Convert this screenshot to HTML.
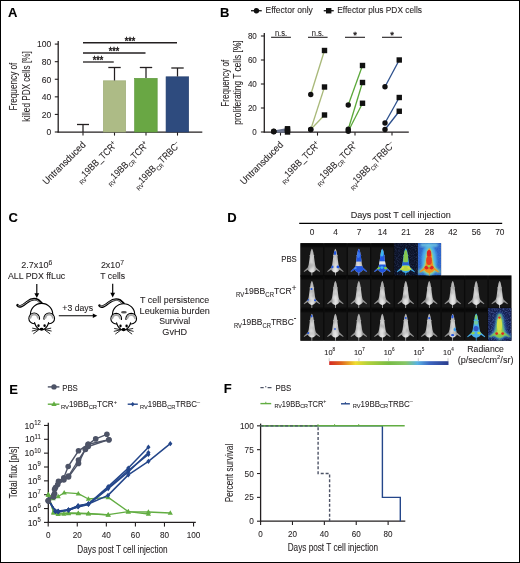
<!DOCTYPE html><html><head><meta charset="utf-8"><title>Figure</title><style>html,body{margin:0;padding:0;background:#fff;width:520px;height:563px;overflow:hidden;}svg{display:block;will-change:transform;}</style></head><body><svg width="520" height="563" viewBox="0 0 520 563" font-family='"Liberation Sans", sans-serif'><defs><path id="ms" d="M11.60,5.6 C12.14,6.2 12.77,7.6 13.04,9.5 C13.22,10.6 13.31,11.2 13.40,11.7 L14.03,12.3 L13.67,13.4 C13.94,15.5 14.30,18.0 14.66,20.5 C14.93,22.2 15.20,23.2 15.74,24.3 L19.8,28.2 L19.4,28.9 L15.83,26.6 C15.11,28.0 13.58,29.2 11.96,29.5 L11.87,32.8 L11.33,32.8 L11.24,29.5 C9.62,29.2 8.09,28.0 7.37,26.6 L3.8,28.9 L3.4,28.2 L7.46,24.3 C8.00,23.2 8.27,22.2 8.54,20.5 C8.90,18.0 9.26,15.5 9.53,13.4 L9.17,12.3 L9.80,11.7 C9.89,11.2 9.98,10.6 10.16,9.5 C10.43,7.6 11.06,6.2 11.60,5.6 Z"/><linearGradient id="topband" x1="0" x2="0" y1="0" y2="1"><stop offset="0" stop-color="#060606"/><stop offset="0.6" stop-color="#0a0a0a"/><stop offset="1" stop-color="#0a0a0a" stop-opacity="0"/></linearGradient><clipPath id="mclip"><use href="#ms"/></clipPath><linearGradient id="mg" x1="0" x2="1" y1="0" y2="0"><stop offset="0" stop-color="#8a8a8a"/><stop offset="0.27" stop-color="#9a9a9a"/><stop offset="0.38" stop-color="#d6d6d6"/><stop offset="0.5" stop-color="#e6e6e6"/><stop offset="0.62" stop-color="#d6d6d6"/><stop offset="0.73" stop-color="#9a9a9a"/><stop offset="1" stop-color="#8a8a8a"/></linearGradient><linearGradient id="mshade" x1="0" x2="0" y1="0" y2="1"><stop offset="0.1" stop-color="#000" stop-opacity="0.3"/><stop offset="0.45" stop-color="#000" stop-opacity="0.08"/><stop offset="0.7" stop-color="#000" stop-opacity="0"/></linearGradient><filter id="bl" x="-20%" y="-20%" width="140%" height="140%"><feGaussianBlur stdDeviation="0.55"/></filter><filter id="bl2" x="-30%" y="-30%" width="160%" height="160%"><feGaussianBlur stdDeviation="1.0"/></filter><filter id="noise" x="0" y="0" width="100%" height="100%"><feTurbulence type="fractalNoise" baseFrequency="0.9" numOctaves="1" seed="3"/><feColorMatrix values="0 0 0 0 0.2  0 0 0 0 0.3  0 0 0 0 0.8  0 0 0 1.1 -0.45"/></filter><linearGradient id="cbar" x1="0" x2="1" y1="0" y2="0"><stop offset="0" stop-color="#d42a24"/><stop offset="0.1" stop-color="#e0641e"/><stop offset="0.22" stop-color="#f0dc30"/><stop offset="0.32" stop-color="#b4d23a"/><stop offset="0.5" stop-color="#78bc44"/><stop offset="0.64" stop-color="#86c666"/><stop offset="0.74" stop-color="#58b2e4"/><stop offset="0.84" stop-color="#3c66c2"/><stop offset="1" stop-color="#2a3c8c"/></linearGradient><clipPath id="cc0"><rect x="0" y="0" width="23.47" height="32.30"/></clipPath><clipPath id="cc1"><rect x="0" y="0" width="23.47" height="32.70"/></clipPath><clipPath id="cc2"><rect x="0" y="0" width="23.47" height="32.70"/></clipPath><filter id="b70" x="-40%" y="-40%" width="180%" height="180%"><feGaussianBlur stdDeviation="0.7"/></filter><filter id="b100" x="-40%" y="-40%" width="180%" height="180%"><feGaussianBlur stdDeviation="1.0"/></filter><filter id="b50" x="-40%" y="-40%" width="180%" height="180%"><feGaussianBlur stdDeviation="0.5"/></filter><filter id="b120" x="-40%" y="-40%" width="180%" height="180%"><feGaussianBlur stdDeviation="1.2"/></filter><filter id="b80" x="-40%" y="-40%" width="180%" height="180%"><feGaussianBlur stdDeviation="0.8"/></filter><filter id="b60" x="-40%" y="-40%" width="180%" height="180%"><feGaussianBlur stdDeviation="0.6"/></filter><filter id="b130" x="-40%" y="-40%" width="180%" height="180%"><feGaussianBlur stdDeviation="1.3"/></filter></defs><rect width="520" height="563" fill="#fff"/><rect x="0.5" y="0.5" width="519" height="562" fill="none" stroke="#000" stroke-width="1"/>
<text x="8.1" y="16.9" font-size="13" text-anchor="start" font-weight="bold" fill="#000" stroke="#000" stroke-width="0.1">A</text>
<text x="220" y="17.0" font-size="13" text-anchor="start" font-weight="bold" fill="#000" stroke="#000" stroke-width="0.1">B</text>
<text x="8.5" y="221.9" font-size="13" text-anchor="start" font-weight="bold" fill="#000" stroke="#000" stroke-width="0.1">C</text>
<text x="227.2" y="221.6" font-size="13" text-anchor="start" font-weight="bold" fill="#000" stroke="#000" stroke-width="0.1">D</text>
<text x="9.25" y="393.75" font-size="13" text-anchor="start" font-weight="bold" fill="#000" stroke="#000" stroke-width="0.1">E</text>
<text x="223.8" y="393.4" font-size="13" text-anchor="start" font-weight="bold" fill="#000" stroke="#000" stroke-width="0.1">F</text>
<line x1="58.2" y1="41.0" x2="58.2" y2="132.6" stroke="#231f20" stroke-width="1.3" />
<line x1="54.8" y1="132.0" x2="58.2" y2="132.0" stroke="#231f20" stroke-width="1.1" />
<text x="51.3" y="135.35" font-size="9.3" text-anchor="end" font-weight="normal" fill="#231f20" stroke="#231f20" stroke-width="0.08" textLength="4.76" lengthAdjust="spacingAndGlyphs">0</text>
<line x1="54.8" y1="114.42" x2="58.2" y2="114.42" stroke="#231f20" stroke-width="1.1" />
<text x="51.3" y="117.77" font-size="9.3" text-anchor="end" font-weight="normal" fill="#231f20" stroke="#231f20" stroke-width="0.08" textLength="9.52" lengthAdjust="spacingAndGlyphs">20</text>
<line x1="54.8" y1="96.84" x2="58.2" y2="96.84" stroke="#231f20" stroke-width="1.1" />
<text x="51.3" y="100.19" font-size="9.3" text-anchor="end" font-weight="normal" fill="#231f20" stroke="#231f20" stroke-width="0.08" textLength="9.52" lengthAdjust="spacingAndGlyphs">40</text>
<line x1="54.8" y1="79.25999999999999" x2="58.2" y2="79.25999999999999" stroke="#231f20" stroke-width="1.1" />
<text x="51.3" y="82.60999999999999" font-size="9.3" text-anchor="end" font-weight="normal" fill="#231f20" stroke="#231f20" stroke-width="0.08" textLength="9.52" lengthAdjust="spacingAndGlyphs">60</text>
<line x1="54.8" y1="61.68000000000001" x2="58.2" y2="61.68000000000001" stroke="#231f20" stroke-width="1.1" />
<text x="51.3" y="65.03" font-size="9.3" text-anchor="end" font-weight="normal" fill="#231f20" stroke="#231f20" stroke-width="0.08" textLength="9.52" lengthAdjust="spacingAndGlyphs">80</text>
<line x1="54.8" y1="44.099999999999994" x2="58.2" y2="44.099999999999994" stroke="#231f20" stroke-width="1.1" />
<text x="51.3" y="47.449999999999996" font-size="9.3" text-anchor="end" font-weight="normal" fill="#231f20" stroke="#231f20" stroke-width="0.08" textLength="14.27" lengthAdjust="spacingAndGlyphs">100</text>
<line x1="57.6" y1="132.2" x2="202.3" y2="132.2" stroke="#231f20" stroke-width="1.3" />
<line x1="83" y1="132.2" x2="83" y2="135.6" stroke="#231f20" stroke-width="1.1" />
<line x1="114.5" y1="132.2" x2="114.5" y2="135.6" stroke="#231f20" stroke-width="1.1" />
<line x1="146" y1="132.2" x2="146" y2="135.6" stroke="#231f20" stroke-width="1.1" />
<line x1="177.5" y1="132.2" x2="177.5" y2="135.6" stroke="#231f20" stroke-width="1.1" />
<rect x="103.3" y="80.8" width="22.4" height="51.2" fill="#adbb86" stroke="#9aa972" stroke-width="0.6"/>
<rect x="134.55" y="78.3" width="22.65" height="53.7" fill="#69a744" stroke="#5b963a" stroke-width="0.6"/>
<rect x="166.05" y="76.8" width="22.65" height="55.2" fill="#2e4b7e" stroke="#243f6e" stroke-width="0.6"/>
<line x1="83" y1="132" x2="83" y2="124.5" stroke="#231f20" stroke-width="1.25" />
<line x1="77" y1="124.5" x2="89" y2="124.5" stroke="#231f20" stroke-width="1.3" />
<line x1="114.5" y1="80.5" x2="114.5" y2="67.5" stroke="#231f20" stroke-width="1.25" />
<line x1="108.3" y1="67.5" x2="120.7" y2="67.5" stroke="#231f20" stroke-width="1.3" />
<line x1="146" y1="78" x2="146" y2="67.5" stroke="#231f20" stroke-width="1.25" />
<line x1="139.8" y1="67.5" x2="152.2" y2="67.5" stroke="#231f20" stroke-width="1.3" />
<line x1="177.5" y1="76.5" x2="177.5" y2="68" stroke="#231f20" stroke-width="1.25" />
<line x1="171.3" y1="68" x2="183.7" y2="68" stroke="#231f20" stroke-width="1.3" />
<line x1="83" y1="42.75" x2="177" y2="42.75" stroke="#231f20" stroke-width="1.3" />
<text x="130" y="44.75" font-size="10.0" text-anchor="middle" font-weight="normal" fill="#231f20" stroke="#231f20" stroke-width="0.45" textLength="10.5" lengthAdjust="spacingAndGlyphs">***</text>
<line x1="83" y1="53" x2="145.5" y2="53" stroke="#231f20" stroke-width="1.3" />
<text x="114" y="55.0" font-size="10.0" text-anchor="middle" font-weight="normal" fill="#231f20" stroke="#231f20" stroke-width="0.45" textLength="10.5" lengthAdjust="spacingAndGlyphs">***</text>
<line x1="83" y1="62" x2="113.75" y2="62" stroke="#231f20" stroke-width="1.3" />
<text x="98" y="64.0" font-size="10.0" text-anchor="middle" font-weight="normal" fill="#231f20" stroke="#231f20" stroke-width="0.45" textLength="10.5" lengthAdjust="spacingAndGlyphs">***</text>
<text x="0" y="0" font-size="10.8" text-anchor="middle" font-weight="normal" fill="#231f20" stroke="#231f20" stroke-width="0.08" textLength="47.9" lengthAdjust="spacingAndGlyphs" transform="translate(16.8,86.6) rotate(-90)">Frequency of</text>
<text x="0" y="0" font-size="10.8" text-anchor="middle" font-weight="normal" fill="#231f20" stroke="#231f20" stroke-width="0.08" textLength="70.5" lengthAdjust="spacingAndGlyphs" transform="translate(30.1,86.45) rotate(-90)">killed PDX cells [%]</text>
<text x="0" y="0" font-size="9.7" text-anchor="end" font-weight="normal" fill="#231f20" stroke="#231f20" stroke-width="0.08" textLength="56.16" lengthAdjust="spacingAndGlyphs" transform="translate(86.2,145.5) rotate(-45)"><tspan font-size="9.7" dy="0.00">Untransduced</tspan></text>
<text x="0" y="0" font-size="9.7" text-anchor="end" font-weight="normal" fill="#231f20" stroke="#231f20" stroke-width="0.08" textLength="53.22" lengthAdjust="spacingAndGlyphs" transform="translate(117.7,145.5) rotate(-45)"><tspan font-size="6.11" dy="2.70">RV</tspan><tspan font-size="9.7" dy="-2.70">19BB_TCR</tspan><tspan font-size="6.4" dy="-3.60">+</tspan></text>
<text x="0" y="0" font-size="9.7" text-anchor="end" font-weight="normal" fill="#231f20" stroke="#231f20" stroke-width="0.08" textLength="56.21" lengthAdjust="spacingAndGlyphs" transform="translate(149.2,145.5) rotate(-45)"><tspan font-size="6.11" dy="2.70">RV</tspan><tspan font-size="9.7" dy="-2.70">19BB</tspan><tspan font-size="6.11" dy="2.70">CR</tspan><tspan font-size="9.7" dy="-2.70">TCR</tspan><tspan font-size="6.4" dy="-3.60">+</tspan></text>
<text x="0" y="0" font-size="9.7" text-anchor="end" font-weight="normal" fill="#231f20" stroke="#231f20" stroke-width="0.08" textLength="61.68" lengthAdjust="spacingAndGlyphs" transform="translate(180.7,145.5) rotate(-45)"><tspan font-size="6.11" dy="2.70">RV</tspan><tspan font-size="9.7" dy="-2.70">19BB</tspan><tspan font-size="6.11" dy="2.70">CR</tspan><tspan font-size="9.7" dy="-2.70">TRBC</tspan><tspan font-size="6.4" dy="-3.60">&#8211;</tspan></text>
<line x1="264.3" y1="33.0" x2="264.3" y2="132.6" stroke="#231f20" stroke-width="1.3" />
<line x1="260.9" y1="132.0" x2="264.3" y2="132.0" stroke="#231f20" stroke-width="1.1" />
<text x="256.8" y="135.2" font-size="8.9" text-anchor="end" font-weight="normal" fill="#231f20" stroke="#231f20" stroke-width="0.08" textLength="4.45" lengthAdjust="spacingAndGlyphs">0</text>
<line x1="260.9" y1="108.0" x2="264.3" y2="108.0" stroke="#231f20" stroke-width="1.1" />
<text x="256.8" y="111.2" font-size="8.9" text-anchor="end" font-weight="normal" fill="#231f20" stroke="#231f20" stroke-width="0.08" textLength="8.91" lengthAdjust="spacingAndGlyphs">20</text>
<line x1="260.9" y1="84.0" x2="264.3" y2="84.0" stroke="#231f20" stroke-width="1.1" />
<text x="256.8" y="87.2" font-size="8.9" text-anchor="end" font-weight="normal" fill="#231f20" stroke="#231f20" stroke-width="0.08" textLength="8.91" lengthAdjust="spacingAndGlyphs">40</text>
<line x1="260.9" y1="60.0" x2="264.3" y2="60.0" stroke="#231f20" stroke-width="1.1" />
<text x="256.8" y="63.2" font-size="8.9" text-anchor="end" font-weight="normal" fill="#231f20" stroke="#231f20" stroke-width="0.08" textLength="8.91" lengthAdjust="spacingAndGlyphs">60</text>
<line x1="260.9" y1="36.0" x2="264.3" y2="36.0" stroke="#231f20" stroke-width="1.1" />
<text x="256.8" y="39.2" font-size="8.9" text-anchor="end" font-weight="normal" fill="#231f20" stroke="#231f20" stroke-width="0.08" textLength="8.91" lengthAdjust="spacingAndGlyphs">80</text>
<line x1="263.7" y1="132.2" x2="408.8" y2="132.2" stroke="#231f20" stroke-width="1.3" />
<line x1="280.5" y1="132.2" x2="280.5" y2="135.6" stroke="#231f20" stroke-width="1.1" />
<line x1="317.5" y1="132.2" x2="317.5" y2="135.6" stroke="#231f20" stroke-width="1.1" />
<line x1="355" y1="132.2" x2="355" y2="135.6" stroke="#231f20" stroke-width="1.1" />
<line x1="392" y1="132.2" x2="392" y2="135.6" stroke="#231f20" stroke-width="1.1" />
<line x1="271.1" y1="37.3" x2="290.9" y2="37.3" stroke="#231f20" stroke-width="1.1" />
<text x="281.0" y="35.5" font-size="8.4" text-anchor="middle" font-weight="normal" fill="#231f20" stroke="#231f20" stroke-width="0.08" textLength="12.2" lengthAdjust="spacingAndGlyphs">n.s.</text>
<line x1="308" y1="37.3" x2="327.6" y2="37.3" stroke="#231f20" stroke-width="1.1" />
<text x="317.8" y="35.5" font-size="8.4" text-anchor="middle" font-weight="normal" fill="#231f20" stroke="#231f20" stroke-width="0.08" textLength="12.2" lengthAdjust="spacingAndGlyphs">n.s.</text>
<line x1="345" y1="37.3" x2="365" y2="37.3" stroke="#231f20" stroke-width="1.1" />
<text x="355.0" y="37.6" font-size="9.5" text-anchor="middle" font-weight="normal" fill="#231f20" stroke="#231f20" stroke-width="0.4">*</text>
<line x1="382" y1="37.3" x2="402" y2="37.3" stroke="#231f20" stroke-width="1.1" />
<text x="392.0" y="37.6" font-size="9.5" text-anchor="middle" font-weight="normal" fill="#231f20" stroke="#231f20" stroke-width="0.4">*</text>
<line x1="251" y1="10.75" x2="261.75" y2="10.75" stroke="#000" stroke-width="1.2" />
<circle cx="256.4" cy="10.75" r="2.7" fill="#111"/>
<text x="265.5" y="13.25" font-size="8.4" text-anchor="start" font-weight="normal" fill="#231f20" stroke="#231f20" stroke-width="0.08" textLength="47.3" lengthAdjust="spacingAndGlyphs">Effector only</text>
<line x1="323.75" y1="10.75" x2="333.75" y2="10.75" stroke="#000" stroke-width="1.2" />
<rect x="326.0" y="8.05" width="5.4" height="5.4" fill="#111"/>
<text x="337.2" y="13.25" font-size="8.4" text-anchor="start" font-weight="normal" fill="#231f20" stroke="#231f20" stroke-width="0.08" textLength="84.8" lengthAdjust="spacingAndGlyphs">Effector plus PDX cells</text>
<line x1="273.75" y1="131.25" x2="287.5" y2="128.75" stroke="#6b7590" stroke-width="1.3" />
<line x1="273.75" y1="131.8" x2="287.5" y2="132.0" stroke="#6b7590" stroke-width="1.3" />
<line x1="273.75" y1="131.5" x2="287.5" y2="130.0" stroke="#6b7590" stroke-width="1.3" />
<line x1="310.75" y1="94.5" x2="324.5" y2="50.5" stroke="#a9b97a" stroke-width="1.3" />
<line x1="310.75" y1="129.5" x2="324.5" y2="87.0" stroke="#a9b97a" stroke-width="1.3" />
<line x1="310.75" y1="129.5" x2="324.5" y2="115.0" stroke="#a9b97a" stroke-width="1.3" />
<line x1="348.25" y1="105" x2="362.5" y2="65.5" stroke="#5ba83a" stroke-width="1.3" />
<line x1="348.25" y1="129.25" x2="362.5" y2="82.5" stroke="#5ba83a" stroke-width="1.3" />
<line x1="348.25" y1="131.25" x2="362.5" y2="103.25" stroke="#5ba83a" stroke-width="1.3" />
<line x1="385.0" y1="86.75" x2="399.25" y2="60.0" stroke="#2c4f8c" stroke-width="1.3" />
<line x1="385.0" y1="123" x2="399.25" y2="97.5" stroke="#2c4f8c" stroke-width="1.3" />
<line x1="385.0" y1="129.5" x2="399.25" y2="111.25" stroke="#2c4f8c" stroke-width="1.3" />
<circle cx="273.75" cy="131.25" r="2.7" fill="#111"/>
<rect x="284.8" y="126.05" width="5.4" height="5.4" fill="#111"/>
<circle cx="273.75" cy="131.8" r="2.7" fill="#111"/>
<rect x="284.8" y="129.3" width="5.4" height="5.4" fill="#111"/>
<circle cx="273.75" cy="131.5" r="2.7" fill="#111"/>
<rect x="284.8" y="127.3" width="5.4" height="5.4" fill="#111"/>
<circle cx="310.75" cy="94.5" r="2.7" fill="#111"/>
<rect x="321.8" y="47.8" width="5.4" height="5.4" fill="#111"/>
<circle cx="310.75" cy="129.5" r="2.7" fill="#111"/>
<rect x="321.8" y="84.3" width="5.4" height="5.4" fill="#111"/>
<circle cx="310.75" cy="129.5" r="2.7" fill="#111"/>
<rect x="321.8" y="112.3" width="5.4" height="5.4" fill="#111"/>
<circle cx="348.25" cy="105" r="2.7" fill="#111"/>
<rect x="359.8" y="62.8" width="5.4" height="5.4" fill="#111"/>
<circle cx="348.25" cy="129.25" r="2.7" fill="#111"/>
<rect x="359.8" y="79.8" width="5.4" height="5.4" fill="#111"/>
<circle cx="348.25" cy="131.25" r="2.7" fill="#111"/>
<rect x="359.8" y="100.55" width="5.4" height="5.4" fill="#111"/>
<circle cx="385.0" cy="86.75" r="2.7" fill="#111"/>
<rect x="396.55" y="57.3" width="5.4" height="5.4" fill="#111"/>
<circle cx="385.0" cy="123" r="2.7" fill="#111"/>
<rect x="396.55" y="94.8" width="5.4" height="5.4" fill="#111"/>
<circle cx="385.0" cy="129.5" r="2.7" fill="#111"/>
<rect x="396.55" y="108.55" width="5.4" height="5.4" fill="#111"/>
<text x="0" y="0" font-size="10.8" text-anchor="middle" font-weight="normal" fill="#231f20" stroke="#231f20" stroke-width="0.08" textLength="46.9" lengthAdjust="spacingAndGlyphs" transform="translate(228.8,83.2) rotate(-90)">Frequency of</text>
<text x="0" y="0" font-size="10.8" text-anchor="middle" font-weight="normal" fill="#231f20" stroke="#231f20" stroke-width="0.08" textLength="84.3" lengthAdjust="spacingAndGlyphs" transform="translate(240.9,82.5) rotate(-90)">proliferating T cells [%]</text>
<text x="0" y="0" font-size="9.7" text-anchor="end" font-weight="normal" fill="#231f20" stroke="#231f20" stroke-width="0.08" textLength="56.16" lengthAdjust="spacingAndGlyphs" transform="translate(283.7,145.5) rotate(-45)"><tspan font-size="9.7" dy="0.00">Untransduced</tspan></text>
<text x="0" y="0" font-size="9.7" text-anchor="end" font-weight="normal" fill="#231f20" stroke="#231f20" stroke-width="0.08" textLength="53.22" lengthAdjust="spacingAndGlyphs" transform="translate(320.7,145.5) rotate(-45)"><tspan font-size="6.11" dy="2.70">RV</tspan><tspan font-size="9.7" dy="-2.70">19BB_TCR</tspan><tspan font-size="6.4" dy="-3.60">+</tspan></text>
<text x="0" y="0" font-size="9.7" text-anchor="end" font-weight="normal" fill="#231f20" stroke="#231f20" stroke-width="0.08" textLength="56.21" lengthAdjust="spacingAndGlyphs" transform="translate(358.2,145.5) rotate(-45)"><tspan font-size="6.11" dy="2.70">RV</tspan><tspan font-size="9.7" dy="-2.70">19BB</tspan><tspan font-size="6.11" dy="2.70">CR</tspan><tspan font-size="9.7" dy="-2.70">TCR</tspan><tspan font-size="6.4" dy="-3.60">+</tspan></text>
<text x="0" y="0" font-size="9.7" text-anchor="end" font-weight="normal" fill="#231f20" stroke="#231f20" stroke-width="0.08" textLength="61.68" lengthAdjust="spacingAndGlyphs" transform="translate(395.2,145.5) rotate(-45)"><tspan font-size="6.11" dy="2.70">RV</tspan><tspan font-size="9.7" dy="-2.70">19BB</tspan><tspan font-size="6.11" dy="2.70">CR</tspan><tspan font-size="9.7" dy="-2.70">TRBC</tspan><tspan font-size="6.4" dy="-3.60">&#8211;</tspan></text>
<text x="36.8" y="268.2" font-size="9.2" text-anchor="middle" font-weight="normal" fill="#231f20" stroke="#231f20" stroke-width="0.08" textLength="31.0" lengthAdjust="spacingAndGlyphs"><tspan font-size="9.2" dy="0.00">2.7x10</tspan><tspan font-size="7.0" dy="-3.60">6</tspan></text>
<text x="36.6" y="278.6" font-size="9.2" text-anchor="middle" font-weight="normal" fill="#231f20" stroke="#231f20" stroke-width="0.08" textLength="57.3" lengthAdjust="spacingAndGlyphs">ALL PDX ffLuc</text>
<text x="112.4" y="268.2" font-size="9.2" text-anchor="middle" font-weight="normal" fill="#231f20" stroke="#231f20" stroke-width="0.08" textLength="23.0" lengthAdjust="spacingAndGlyphs"><tspan font-size="9.2" dy="0.00">2x10</tspan><tspan font-size="7.0" dy="-3.60">7</tspan></text>
<text x="112.7" y="278.6" font-size="9.2" text-anchor="middle" font-weight="normal" fill="#231f20" stroke="#231f20" stroke-width="0.08" textLength="24.8" lengthAdjust="spacingAndGlyphs">T cells</text>
<text x="77.7" y="310.6" font-size="9.2" text-anchor="middle" font-weight="normal" fill="#231f20" stroke="#231f20" stroke-width="0.08" textLength="30.8" lengthAdjust="spacingAndGlyphs">+3 days</text>
<text x="174.7" y="302.9" font-size="9.2" text-anchor="middle" font-weight="normal" fill="#231f20" stroke="#231f20" stroke-width="0.08" textLength="69.2" lengthAdjust="spacingAndGlyphs">T cell persistence</text>
<text x="174.7" y="313.6" font-size="9.2" text-anchor="middle" font-weight="normal" fill="#231f20" stroke="#231f20" stroke-width="0.08" textLength="70.2" lengthAdjust="spacingAndGlyphs">Leukemia burden</text>
<text x="174.7" y="324.4" font-size="9.2" text-anchor="middle" font-weight="normal" fill="#231f20" stroke="#231f20" stroke-width="0.08" textLength="31.0" lengthAdjust="spacingAndGlyphs">Survival</text>
<text x="174.7" y="335.1" font-size="9.2" text-anchor="middle" font-weight="normal" fill="#231f20" stroke="#231f20" stroke-width="0.08" textLength="24.8" lengthAdjust="spacingAndGlyphs">GvHD</text>
<line x1="36.8" y1="284.0" x2="36.8" y2="294.8" stroke="#000" stroke-width="1.15" />
<path d="M34.4,293.2 L39.199999999999996,293.2 L36.8,298.0 Z" fill="#000"/>
<line x1="112.7" y1="283.8" x2="112.7" y2="294.3" stroke="#000" stroke-width="1.15" />
<path d="M110.3,292.7 L115.10000000000001,292.7 L112.7,297.5 Z" fill="#000"/>
<line x1="58.8" y1="315.8" x2="94.0" y2="315.8" stroke="#000" stroke-width="1.1" />
<path d="M92.8,313.5 L92.8,318.1 L97.3,315.8 Z" fill="#000"/>
<g transform="translate(0,0)" stroke-linecap="round"><path d="M17.5,305.2 C19.5,308 23,305.5 27,302.2 C30.5,299.3 34.5,298.3 38.2,300.2 L41.5,303.2" fill="none" stroke="#000" stroke-width="2.6"/><path d="M18.2,305.6 C20.2,307.2 23.2,305 27.2,302.0 C30.6,299.6 34.4,298.9 37.9,300.8 L40.6,303.2" fill="none" stroke="#aaa" stroke-width="1.0"/><circle cx="41.6" cy="314.6" r="11.2" fill="#fff" stroke="#000" stroke-width="1.1"/><circle cx="34.2" cy="318.4" r="5.35" fill="#fff" stroke="#000" stroke-width="1.1"/><circle cx="49.2" cy="318.4" r="5.35" fill="#fff" stroke="#000" stroke-width="1.1"/><path d="M30.4,318.0 Q31.0,314.6 34.2,314.5 Q37.4,314.6 38.0,318.0" fill="none" stroke="#a8a8a8" stroke-width="1.7"/><path d="M45.4,318.0 Q46.0,314.6 49.2,314.5 Q52.4,314.6 53.0,318.0" fill="none" stroke="#a8a8a8" stroke-width="1.7"/><path d="M36.0,319.8 L47.4,319.8 L48.7,322.6 Q47.2,328.6 41.6,330.3 Q36.0,328.6 34.5,322.6 Z" fill="#fff"/><path d="M34.6,322.6 Q36.0,328.6 41.6,330.3 Q47.2,328.6 48.6,322.6" fill="none" stroke="#000" stroke-width="1.1"/><ellipse cx="38.5" cy="325.7" rx="1.2" ry="1.4" fill="#000"/><ellipse cx="44.6" cy="325.7" rx="1.2" ry="1.4" fill="#000"/><ellipse cx="41.6" cy="328.9" rx="1.9" ry="1.2" fill="#000"/><path d="M38.2,329.3 L32.6,328.2 M38.2,329.6 L32.2,331.0 M38.5,330 L33.6,333.6 M45.2,329.3 L50.8,328.2 M45.2,329.6 L51.2,331.0 M44.9,330 L49.8,333.6" stroke="#000" stroke-width="0.85" fill="none"/></g>
<g transform="translate(82.0,0.3)" stroke-linecap="round"><path d="M17.5,305.2 C19.5,308 23,305.5 27,302.2 C30.5,299.3 34.5,298.3 38.2,300.2 L41.5,303.2" fill="none" stroke="#000" stroke-width="2.6"/><path d="M18.2,305.6 C20.2,307.2 23.2,305 27.2,302.0 C30.6,299.6 34.4,298.9 37.9,300.8 L40.6,303.2" fill="none" stroke="#aaa" stroke-width="1.0"/><circle cx="41.6" cy="314.6" r="11.2" fill="#fff" stroke="#000" stroke-width="1.1"/><ellipse cx="41.9" cy="312.0" rx="2.9" ry="1.3" fill="#555"/><circle cx="34.2" cy="318.4" r="5.35" fill="#fff" stroke="#000" stroke-width="1.1"/><circle cx="49.2" cy="318.4" r="5.35" fill="#fff" stroke="#000" stroke-width="1.1"/><path d="M30.4,318.0 Q31.0,314.6 34.2,314.5 Q37.4,314.6 38.0,318.0" fill="none" stroke="#a8a8a8" stroke-width="1.7"/><path d="M45.4,318.0 Q46.0,314.6 49.2,314.5 Q52.4,314.6 53.0,318.0" fill="none" stroke="#a8a8a8" stroke-width="1.7"/><path d="M36.0,319.8 L47.4,319.8 L48.7,322.6 Q47.2,328.6 41.6,330.3 Q36.0,328.6 34.5,322.6 Z" fill="#fff"/><path d="M34.6,322.6 Q36.0,328.6 41.6,330.3 Q47.2,328.6 48.6,322.6" fill="none" stroke="#000" stroke-width="1.1"/><ellipse cx="38.5" cy="325.7" rx="1.2" ry="1.4" fill="#000"/><ellipse cx="44.6" cy="325.7" rx="1.2" ry="1.4" fill="#000"/><ellipse cx="41.6" cy="328.9" rx="1.9" ry="1.2" fill="#000"/><path d="M38.2,329.3 L32.6,328.2 M38.2,329.6 L32.2,331.0 M38.5,330 L33.6,333.6 M45.2,329.3 L50.8,328.2 M45.2,329.6 L51.2,331.0 M44.9,330 L49.8,333.6" stroke="#000" stroke-width="0.85" fill="none"/></g>
<text x="400.7" y="217.9" font-size="8.9" text-anchor="middle" font-weight="normal" fill="#231f20" stroke="#231f20" stroke-width="0.08" textLength="100.1" lengthAdjust="spacingAndGlyphs">Days post T cell injection</text>
<line x1="299.2" y1="223.4" x2="502.2" y2="223.4" stroke="#000" stroke-width="1.2" />
<text x="312.035" y="234.7" font-size="8.8" text-anchor="middle" font-weight="normal" fill="#231f20" stroke="#231f20" stroke-width="0.08" textLength="4.65" lengthAdjust="spacingAndGlyphs">0</text>
<text x="335.505" y="234.7" font-size="8.8" text-anchor="middle" font-weight="normal" fill="#231f20" stroke="#231f20" stroke-width="0.08" textLength="4.65" lengthAdjust="spacingAndGlyphs">4</text>
<text x="358.975" y="234.7" font-size="8.8" text-anchor="middle" font-weight="normal" fill="#231f20" stroke="#231f20" stroke-width="0.08" textLength="4.65" lengthAdjust="spacingAndGlyphs">7</text>
<text x="382.445" y="234.7" font-size="8.8" text-anchor="middle" font-weight="normal" fill="#231f20" stroke="#231f20" stroke-width="0.08" textLength="9.3" lengthAdjust="spacingAndGlyphs">14</text>
<text x="405.915" y="234.7" font-size="8.8" text-anchor="middle" font-weight="normal" fill="#231f20" stroke="#231f20" stroke-width="0.08" textLength="9.3" lengthAdjust="spacingAndGlyphs">21</text>
<text x="429.385" y="234.7" font-size="8.8" text-anchor="middle" font-weight="normal" fill="#231f20" stroke="#231f20" stroke-width="0.08" textLength="9.3" lengthAdjust="spacingAndGlyphs">28</text>
<text x="452.855" y="234.7" font-size="8.8" text-anchor="middle" font-weight="normal" fill="#231f20" stroke="#231f20" stroke-width="0.08" textLength="9.3" lengthAdjust="spacingAndGlyphs">42</text>
<text x="476.325" y="234.7" font-size="8.8" text-anchor="middle" font-weight="normal" fill="#231f20" stroke="#231f20" stroke-width="0.08" textLength="9.3" lengthAdjust="spacingAndGlyphs">56</text>
<text x="499.795" y="234.7" font-size="8.8" text-anchor="middle" font-weight="normal" fill="#231f20" stroke="#231f20" stroke-width="0.08" textLength="9.3" lengthAdjust="spacingAndGlyphs">70</text>
<text x="296.8" y="261.7" font-size="9.2" text-anchor="end" font-weight="normal" fill="#231f20" stroke="#231f20" stroke-width="0.08" textLength="15.6" lengthAdjust="spacingAndGlyphs">PBS</text>
<text x="296.4" y="294.1" font-size="9.2" text-anchor="end" font-weight="normal" fill="#231f20" stroke="#231f20" stroke-width="0.08" textLength="60.3" lengthAdjust="spacingAndGlyphs"><tspan font-size="6.4" dy="3">RV</tspan><tspan dy="-3">19BB</tspan><tspan font-size="6.4" dy="3">CR</tspan><tspan dy="-3">TCR</tspan><tspan font-size="8.6" dy="-3.3">+</tspan></text>
<text x="296.4" y="324.6" font-size="9.2" text-anchor="end" font-weight="normal" fill="#231f20" stroke="#231f20" stroke-width="0.08" textLength="62.5" lengthAdjust="spacingAndGlyphs"><tspan font-size="6.4" dy="3">RV</tspan><tspan dy="-3">19BB</tspan><tspan font-size="6.4" dy="3">CR</tspan><tspan dy="-3">TRBC</tspan><tspan font-size="8.6" dy="-3.3">-</tspan></text>
<rect x="300.3" y="243.1" width="140.82" height="33.3" fill="#0a0a0a"/>
<rect x="300.3" y="275.4" width="211.23" height="65.4" fill="#0a0a0a"/>
<g transform="translate(300.30,243.1)" clip-path="url(#cc0)"><rect x="0.6" y="0.5" width="22.27" height="31.30" fill="#161616"/><rect x="0.6" y="0.5" width="22.27" height="4.5" fill="url(#topband)"/><use href="#ms" fill="url(#mg)" filter="url(#bl)"/><g clip-path="url(#mclip)"><rect x="0" y="0" width="24" height="33" fill="url(#mshade)"/><g filter="url(#b100)"><ellipse cx="13.3" cy="21.9" rx="1.5" ry="1.5" fill="#000" opacity="0.12"/><ellipse cx="11.1" cy="22.3" rx="1.4" ry="1.7" fill="#000" opacity="0.13"/><ellipse cx="13.6" cy="17.6" rx="1.4" ry="2.0" fill="#000" opacity="0.13"/><ellipse cx="10.4" cy="24.5" rx="2.0" ry="2.0" fill="#000" opacity="0.15"/><ellipse cx="10.7" cy="21.4" rx="1.9" ry="1.9" fill="#000" opacity="0.12"/></g></g></g>
<g transform="translate(323.77,243.1)" clip-path="url(#cc0)"><rect x="0.6" y="0.5" width="22.27" height="31.30" fill="#161616"/><rect x="0.6" y="0.5" width="22.27" height="4.5" fill="url(#topband)"/><use href="#ms" fill="url(#mg)" filter="url(#bl)"/><g clip-path="url(#mclip)"><rect x="0" y="0" width="24" height="33" fill="url(#mshade)"/><g filter="url(#b100)"><ellipse cx="9.8" cy="23.4" rx="1.8" ry="1.5" fill="#000" opacity="0.12"/><ellipse cx="11.3" cy="20.1" rx="1.8" ry="1.3" fill="#000" opacity="0.08"/><ellipse cx="13.3" cy="16.4" rx="1.8" ry="1.2" fill="#000" opacity="0.12"/><ellipse cx="12.7" cy="12.9" rx="2.0" ry="2.1" fill="#000" opacity="0.08"/><ellipse cx="9.2" cy="18.2" rx="2.0" ry="1.6" fill="#000" opacity="0.10"/></g></g><g clip-path="url(#mclip)"><g filter="url(#bl)"><ellipse cx="11.2" cy="10" rx="1.4" ry="2.0" fill="#2456e0"/><ellipse cx="8.2" cy="23.8" rx="1.6" ry="1.3" fill="#2456e0"/><ellipse cx="14.3" cy="23.8" rx="1.6" ry="1.3" fill="#2456e0"/></g></g></g>
<g transform="translate(347.24,243.1)" clip-path="url(#cc0)"><rect x="0.6" y="0.5" width="22.27" height="31.30" fill="#202020"/><rect x="0.6" y="0.5" width="22.27" height="4.5" fill="url(#topband)"/><use href="#ms" fill="url(#mg)" filter="url(#bl)"/><g clip-path="url(#mclip)"><rect x="0" y="0" width="24" height="33" fill="url(#mshade)"/><g filter="url(#b100)"><ellipse cx="13.9" cy="25.1" rx="1.2" ry="1.3" fill="#000" opacity="0.15"/><ellipse cx="12.8" cy="20.4" rx="1.4" ry="1.8" fill="#000" opacity="0.13"/><ellipse cx="12.0" cy="11.7" rx="1.5" ry="1.6" fill="#000" opacity="0.14"/><ellipse cx="14.1" cy="25.1" rx="1.6" ry="1.6" fill="#000" opacity="0.10"/><ellipse cx="9.3" cy="9.5" rx="1.6" ry="1.5" fill="#000" opacity="0.11"/></g></g><g clip-path="url(#mclip)"><g filter="url(#bl)"><rect x="0" y="0" width="24" height="18.5" fill="#2456e0"/><ellipse cx="11.2" cy="12" rx="1.6" ry="3.0" fill="#3a78f0"/><rect x="0" y="23" width="24" height="12" fill="#2456e0"/><ellipse cx="8" cy="25" rx="1.5" ry="1" fill="#5090f0"/></g></g></g>
<g transform="translate(370.71,243.1)" clip-path="url(#cc0)"><rect x="0.6" y="0.5" width="22.27" height="31.30" fill="#161616"/><rect x="0.6" y="0.5" width="22.27" height="4.5" fill="url(#topband)"/><use href="#ms" fill="url(#mg)" filter="url(#bl)"/><g clip-path="url(#mclip)"><rect x="0" y="0" width="24" height="33" fill="url(#mshade)"/><g filter="url(#b100)"><ellipse cx="10.3" cy="18.3" rx="1.5" ry="1.8" fill="#000" opacity="0.13"/><ellipse cx="9.4" cy="9.2" rx="1.9" ry="1.5" fill="#000" opacity="0.10"/><ellipse cx="14.1" cy="17.0" rx="1.9" ry="1.7" fill="#000" opacity="0.13"/><ellipse cx="9.9" cy="19.8" rx="1.9" ry="1.7" fill="#000" opacity="0.14"/><ellipse cx="12.5" cy="10.1" rx="1.8" ry="1.8" fill="#000" opacity="0.10"/></g></g><g clip-path="url(#mclip)"><g filter="url(#bl)"><rect x="0" y="0" width="24" height="33" fill="#2456e0"/><ellipse cx="11.2" cy="10" rx="1.8" ry="3.5" fill="#3cb4f0"/><rect x="0" y="18.2" width="24" height="3.2" fill="#dfe6ee"/><ellipse cx="7.5" cy="25" rx="1.8" ry="1.3" fill="#7cc84a"/><ellipse cx="15" cy="25" rx="1.8" ry="1.3" fill="#7cc84a"/><ellipse cx="11.2" cy="24.5" rx="1.6" ry="1.3" fill="#3cb4f0"/></g></g></g>
<g transform="translate(394.18,243.1)" clip-path="url(#cc0)"><rect x="0.6" y="0.5" width="22.27" height="31.30" fill="#161616"/><rect x="0.6" y="0.5" width="22.27" height="4.5" fill="url(#topband)"/><rect x="0" y="0" width="23.47" height="32.30" fill="#0c1226"/><rect x="0" y="0" width="23.47" height="32.30" filter="url(#noise)" opacity="0.5"/><use href="#ms" transform="translate(11.4,19) scale(1.1,1.03) translate(-11.4,-19)" fill="#3aa8e8" opacity="1" filter="url(#b50)"/><g clip-path="url(#mclip)"><g filter="url(#bl)"><ellipse cx="11.4" cy="13.5" rx="3.2" ry="6.5" fill="#86c850"/><rect x="0" y="19.2" width="24" height="2.8" fill="#2a60d0"/><ellipse cx="11.4" cy="25.2" rx="6.5" ry="2.8" fill="#b8d840"/><ellipse cx="8" cy="24.5" rx="1.8" ry="1.3" fill="#d8dc40"/><ellipse cx="15" cy="24.5" rx="1.8" ry="1.3" fill="#d8dc40"/></g></g></g>
<g transform="translate(417.65,243.1)" clip-path="url(#cc0)"><rect x="0.6" y="0.5" width="22.27" height="31.30" fill="#161616"/><rect x="0.6" y="0.5" width="22.27" height="4.5" fill="url(#topband)"/><rect x="0" y="0" width="23.47" height="32.30" fill="#2c64c8"/><rect x="0" y="0" width="23.47" height="32.30" filter="url(#noise)" opacity="0.6"/><ellipse cx="11.5" cy="17" rx="7.5" ry="16" fill="#48a8ec" filter="url(#bl2)"/><rect x="3" y="0.5" width="17" height="3" fill="#70c8e0" filter="url(#bl2)"/><use href="#ms" transform="translate(11.4,19) scale(1.6,1.15) translate(-11.4,-19)" fill="#60c8e0" opacity="1" filter="url(#b120)"/><use href="#ms" transform="translate(11.4,19) scale(1.35,1.08) translate(-11.4,-19)" fill="#c8e040" opacity="1" filter="url(#b80)"/><use href="#ms" transform="translate(11.4,19) scale(1.15,1.03) translate(-11.4,-19)" fill="#f09020" opacity="1" filter="url(#b60)"/><g><g filter="url(#b70)"><ellipse cx="11.4" cy="10.5" rx="2.2" ry="3.5" fill="#e02820"/><ellipse cx="11.4" cy="17.5" rx="2.8" ry="4.5" fill="#e84020"/><ellipse cx="9" cy="24.5" rx="2.2" ry="1.8" fill="#e02820"/><ellipse cx="13.8" cy="24.5" rx="2.2" ry="1.8" fill="#e02820"/><ellipse cx="11.4" cy="23.2" rx="1.4" ry="1.2" fill="#a0d040"/></g></g></g>
<g transform="translate(300.30,275.4)" clip-path="url(#cc1)"><rect x="0.6" y="0.5" width="22.27" height="31.70" fill="#161616"/><rect x="0.6" y="0.5" width="22.27" height="4.5" fill="url(#topband)"/><use href="#ms" fill="url(#mg)" filter="url(#bl)"/><g clip-path="url(#mclip)"><rect x="0" y="0" width="24" height="33" fill="url(#mshade)"/><g filter="url(#b100)"><ellipse cx="12.0" cy="16.3" rx="1.7" ry="1.4" fill="#000" opacity="0.15"/><ellipse cx="13.2" cy="20.1" rx="1.3" ry="1.7" fill="#000" opacity="0.11"/><ellipse cx="10.3" cy="25.2" rx="2.0" ry="1.2" fill="#000" opacity="0.15"/><ellipse cx="12.1" cy="15.5" rx="1.4" ry="1.9" fill="#000" opacity="0.12"/><ellipse cx="12.5" cy="20.3" rx="1.3" ry="2.0" fill="#000" opacity="0.16"/></g></g><g clip-path="url(#mclip)"><g filter="url(#bl)"><ellipse cx="11.2" cy="13.5" rx="1.1" ry="1.0" fill="#2456e0"/><ellipse cx="7.5" cy="24.3" rx="1.1" ry="1.0" fill="#2456e0"/><ellipse cx="14.8" cy="24.8" rx="1.1" ry="1.0" fill="#2456e0"/></g></g></g>
<g transform="translate(323.77,275.4)" clip-path="url(#cc1)"><rect x="0.6" y="0.5" width="22.27" height="31.70" fill="#161616"/><rect x="0.6" y="0.5" width="22.27" height="4.5" fill="url(#topband)"/><use href="#ms" fill="url(#mg)" filter="url(#bl)"/><g clip-path="url(#mclip)"><rect x="0" y="0" width="24" height="33" fill="url(#mshade)"/><g filter="url(#b100)"><ellipse cx="11.4" cy="18.5" rx="1.9" ry="1.7" fill="#000" opacity="0.12"/><ellipse cx="12.0" cy="12.1" rx="1.6" ry="1.8" fill="#000" opacity="0.14"/><ellipse cx="9.6" cy="14.2" rx="1.3" ry="2.0" fill="#000" opacity="0.14"/><ellipse cx="9.3" cy="25.7" rx="2.0" ry="1.9" fill="#000" opacity="0.13"/><ellipse cx="9.9" cy="9.3" rx="1.6" ry="1.3" fill="#000" opacity="0.10"/></g></g></g>
<g transform="translate(347.24,275.4)" clip-path="url(#cc1)"><rect x="0.6" y="0.5" width="22.27" height="31.70" fill="#1e1e1e"/><rect x="0.6" y="0.5" width="22.27" height="4.5" fill="url(#topband)"/><use href="#ms" fill="url(#mg)" filter="url(#bl)"/><g clip-path="url(#mclip)"><rect x="0" y="0" width="24" height="33" fill="url(#mshade)"/><g filter="url(#b100)"><ellipse cx="11.5" cy="20.2" rx="1.7" ry="1.3" fill="#000" opacity="0.08"/><ellipse cx="11.0" cy="13.7" rx="1.8" ry="1.9" fill="#000" opacity="0.13"/><ellipse cx="11.9" cy="20.2" rx="1.3" ry="1.6" fill="#000" opacity="0.09"/><ellipse cx="13.6" cy="10.0" rx="1.9" ry="1.3" fill="#000" opacity="0.13"/><ellipse cx="10.8" cy="15.9" rx="1.9" ry="1.2" fill="#000" opacity="0.08"/></g></g></g>
<g transform="translate(370.71,275.4)" clip-path="url(#cc1)"><rect x="0.6" y="0.5" width="22.27" height="31.70" fill="#161616"/><rect x="0.6" y="0.5" width="22.27" height="4.5" fill="url(#topband)"/><use href="#ms" fill="url(#mg)" filter="url(#bl)"/><g clip-path="url(#mclip)"><rect x="0" y="0" width="24" height="33" fill="url(#mshade)"/><g filter="url(#b100)"><ellipse cx="10.4" cy="20.6" rx="1.7" ry="2.0" fill="#000" opacity="0.09"/><ellipse cx="10.3" cy="11.5" rx="1.4" ry="1.9" fill="#000" opacity="0.09"/><ellipse cx="11.8" cy="12.6" rx="1.4" ry="1.6" fill="#000" opacity="0.15"/><ellipse cx="12.1" cy="9.2" rx="1.4" ry="1.3" fill="#000" opacity="0.15"/><ellipse cx="13.1" cy="22.7" rx="1.9" ry="1.9" fill="#000" opacity="0.16"/></g></g></g>
<g transform="translate(394.18,275.4)" clip-path="url(#cc1)"><rect x="0.6" y="0.5" width="22.27" height="31.70" fill="#141414"/><rect x="0.6" y="0.5" width="22.27" height="4.5" fill="url(#topband)"/><use href="#ms" fill="url(#mg)" filter="url(#bl)"/><g clip-path="url(#mclip)"><rect x="0" y="0" width="24" height="33" fill="url(#mshade)"/><g filter="url(#b100)"><ellipse cx="9.6" cy="20.9" rx="1.7" ry="2.1" fill="#000" opacity="0.10"/><ellipse cx="10.4" cy="21.5" rx="1.7" ry="1.5" fill="#000" opacity="0.13"/><ellipse cx="11.1" cy="22.2" rx="1.3" ry="1.4" fill="#000" opacity="0.15"/><ellipse cx="10.9" cy="13.4" rx="1.8" ry="1.8" fill="#000" opacity="0.09"/><ellipse cx="11.9" cy="20.3" rx="1.3" ry="1.9" fill="#000" opacity="0.09"/></g></g></g>
<g transform="translate(417.65,275.4)" clip-path="url(#cc1)"><rect x="0.6" y="0.5" width="22.27" height="31.70" fill="#161616"/><rect x="0.6" y="0.5" width="22.27" height="4.5" fill="url(#topband)"/><use href="#ms" fill="url(#mg)" filter="url(#bl)"/><g clip-path="url(#mclip)"><rect x="0" y="0" width="24" height="33" fill="url(#mshade)"/><g filter="url(#b100)"><ellipse cx="13.9" cy="9.2" rx="1.8" ry="1.4" fill="#000" opacity="0.16"/><ellipse cx="9.2" cy="24.0" rx="1.7" ry="2.1" fill="#000" opacity="0.16"/><ellipse cx="10.3" cy="14.7" rx="1.8" ry="1.5" fill="#000" opacity="0.10"/><ellipse cx="10.2" cy="23.6" rx="1.9" ry="2.0" fill="#000" opacity="0.10"/><ellipse cx="13.7" cy="17.7" rx="1.4" ry="1.7" fill="#000" opacity="0.11"/></g></g></g>
<g transform="translate(441.12,275.4)" clip-path="url(#cc1)"><rect x="0.6" y="0.5" width="22.27" height="31.70" fill="#161616"/><rect x="0.6" y="0.5" width="22.27" height="4.5" fill="url(#topband)"/><use href="#ms" fill="url(#mg)" filter="url(#bl)"/><g clip-path="url(#mclip)"><rect x="0" y="0" width="24" height="33" fill="url(#mshade)"/><g filter="url(#b100)"><ellipse cx="10.9" cy="17.2" rx="1.5" ry="1.6" fill="#000" opacity="0.11"/><ellipse cx="12.4" cy="13.4" rx="1.7" ry="1.2" fill="#000" opacity="0.10"/><ellipse cx="10.8" cy="11.4" rx="1.8" ry="1.5" fill="#000" opacity="0.14"/><ellipse cx="13.9" cy="13.3" rx="1.9" ry="2.0" fill="#000" opacity="0.13"/><ellipse cx="9.2" cy="16.8" rx="1.7" ry="1.5" fill="#000" opacity="0.10"/></g></g></g>
<g transform="translate(464.59,275.4)" clip-path="url(#cc1)"><rect x="0.6" y="0.5" width="22.27" height="31.70" fill="#161616"/><rect x="0.6" y="0.5" width="22.27" height="4.5" fill="url(#topband)"/><use href="#ms" fill="url(#mg)" filter="url(#bl)"/><g clip-path="url(#mclip)"><rect x="0" y="0" width="24" height="33" fill="url(#mshade)"/><g filter="url(#b100)"><ellipse cx="11.7" cy="22.7" rx="2.0" ry="1.5" fill="#000" opacity="0.14"/><ellipse cx="12.6" cy="20.2" rx="1.3" ry="1.2" fill="#000" opacity="0.11"/><ellipse cx="12.8" cy="13.3" rx="1.6" ry="1.5" fill="#000" opacity="0.15"/><ellipse cx="13.8" cy="15.8" rx="2.0" ry="1.3" fill="#000" opacity="0.15"/><ellipse cx="13.5" cy="11.6" rx="1.8" ry="1.8" fill="#000" opacity="0.16"/></g></g></g>
<g transform="translate(488.06,275.4)" clip-path="url(#cc1)"><rect x="0.6" y="0.5" width="22.27" height="31.70" fill="#161616"/><rect x="0.6" y="0.5" width="22.27" height="4.5" fill="url(#topband)"/><use href="#ms" fill="url(#mg)" filter="url(#bl)"/><g clip-path="url(#mclip)"><rect x="0" y="0" width="24" height="33" fill="url(#mshade)"/><g filter="url(#b100)"><ellipse cx="10.0" cy="20.2" rx="1.5" ry="1.4" fill="#000" opacity="0.12"/><ellipse cx="11.6" cy="17.2" rx="1.6" ry="1.5" fill="#000" opacity="0.10"/><ellipse cx="12.6" cy="14.5" rx="1.7" ry="2.0" fill="#000" opacity="0.15"/><ellipse cx="13.8" cy="13.0" rx="1.4" ry="1.9" fill="#000" opacity="0.13"/><ellipse cx="10.1" cy="20.5" rx="1.9" ry="2.0" fill="#000" opacity="0.10"/></g></g></g>
<g transform="translate(300.30,308.1)" clip-path="url(#cc2)"><rect x="0.6" y="0.5" width="22.27" height="31.70" fill="#161616"/><rect x="0.6" y="0.5" width="22.27" height="4.5" fill="url(#topband)"/><use href="#ms" fill="url(#mg)" filter="url(#bl)"/><g clip-path="url(#mclip)"><rect x="0" y="0" width="24" height="33" fill="url(#mshade)"/><g filter="url(#b100)"><ellipse cx="13.6" cy="20.7" rx="1.8" ry="2.1" fill="#000" opacity="0.10"/><ellipse cx="12.3" cy="24.4" rx="1.9" ry="1.8" fill="#000" opacity="0.09"/><ellipse cx="11.2" cy="25.9" rx="1.3" ry="1.5" fill="#000" opacity="0.16"/><ellipse cx="11.3" cy="12.5" rx="1.5" ry="2.1" fill="#000" opacity="0.11"/><ellipse cx="11.2" cy="19.7" rx="1.8" ry="1.7" fill="#000" opacity="0.09"/></g></g><g clip-path="url(#mclip)"><g filter="url(#bl)"><ellipse cx="11.2" cy="8" rx="1.1" ry="1.4" fill="#2456e0"/><ellipse cx="7.8" cy="24.8" rx="1.2" ry="1.0" fill="#2456e0"/></g></g></g>
<g transform="translate(323.77,308.1)" clip-path="url(#cc2)"><rect x="0.6" y="0.5" width="22.27" height="31.70" fill="#161616"/><rect x="0.6" y="0.5" width="22.27" height="4.5" fill="url(#topband)"/><use href="#ms" fill="url(#mg)" filter="url(#bl)"/><g clip-path="url(#mclip)"><rect x="0" y="0" width="24" height="33" fill="url(#mshade)"/><g filter="url(#b100)"><ellipse cx="9.9" cy="20.7" rx="1.7" ry="1.7" fill="#000" opacity="0.10"/><ellipse cx="13.1" cy="22.7" rx="1.6" ry="1.7" fill="#000" opacity="0.10"/><ellipse cx="9.1" cy="15.3" rx="1.7" ry="1.3" fill="#000" opacity="0.14"/><ellipse cx="10.3" cy="13.0" rx="1.2" ry="2.2" fill="#000" opacity="0.14"/><ellipse cx="13.5" cy="19.5" rx="1.2" ry="1.5" fill="#000" opacity="0.12"/></g></g><g clip-path="url(#mclip)"><g filter="url(#bl)"><ellipse cx="11.2" cy="21" rx="1.0" ry="1.0" fill="#4a70e0"/></g></g></g>
<g transform="translate(347.24,308.1)" clip-path="url(#cc2)"><rect x="0.6" y="0.5" width="22.27" height="31.70" fill="#1e1e1e"/><rect x="0.6" y="0.5" width="22.27" height="4.5" fill="url(#topband)"/><use href="#ms" fill="url(#mg)" filter="url(#bl)"/><g clip-path="url(#mclip)"><rect x="0" y="0" width="24" height="33" fill="url(#mshade)"/><g filter="url(#b100)"><ellipse cx="13.9" cy="11.4" rx="1.2" ry="2.2" fill="#000" opacity="0.09"/><ellipse cx="9.7" cy="20.1" rx="1.5" ry="2.1" fill="#000" opacity="0.10"/><ellipse cx="13.9" cy="14.4" rx="1.7" ry="2.1" fill="#000" opacity="0.13"/><ellipse cx="13.7" cy="21.0" rx="1.2" ry="2.1" fill="#000" opacity="0.13"/><ellipse cx="10.7" cy="12.2" rx="1.9" ry="1.8" fill="#000" opacity="0.16"/></g></g></g>
<g transform="translate(370.71,308.1)" clip-path="url(#cc2)"><rect x="0.6" y="0.5" width="22.27" height="31.70" fill="#161616"/><rect x="0.6" y="0.5" width="22.27" height="4.5" fill="url(#topband)"/><use href="#ms" fill="url(#mg)" filter="url(#bl)"/><g clip-path="url(#mclip)"><rect x="0" y="0" width="24" height="33" fill="url(#mshade)"/><g filter="url(#b100)"><ellipse cx="13.7" cy="25.1" rx="1.9" ry="1.3" fill="#000" opacity="0.13"/><ellipse cx="11.2" cy="18.0" rx="1.3" ry="1.4" fill="#000" opacity="0.12"/><ellipse cx="10.2" cy="16.7" rx="1.2" ry="1.3" fill="#000" opacity="0.14"/><ellipse cx="11.2" cy="17.7" rx="1.8" ry="1.6" fill="#000" opacity="0.08"/><ellipse cx="13.0" cy="19.0" rx="1.7" ry="1.8" fill="#000" opacity="0.16"/></g></g></g>
<g transform="translate(394.18,308.1)" clip-path="url(#cc2)"><rect x="0.6" y="0.5" width="22.27" height="31.70" fill="#161616"/><rect x="0.6" y="0.5" width="22.27" height="4.5" fill="url(#topband)"/><use href="#ms" fill="url(#mg)" filter="url(#bl)"/><g clip-path="url(#mclip)"><rect x="0" y="0" width="24" height="33" fill="url(#mshade)"/><g filter="url(#b100)"><ellipse cx="12.7" cy="23.3" rx="1.3" ry="2.2" fill="#000" opacity="0.10"/><ellipse cx="12.5" cy="10.6" rx="1.8" ry="1.4" fill="#000" opacity="0.14"/><ellipse cx="12.7" cy="22.0" rx="1.6" ry="2.1" fill="#000" opacity="0.16"/><ellipse cx="9.7" cy="17.8" rx="2.0" ry="1.9" fill="#000" opacity="0.12"/><ellipse cx="10.6" cy="25.2" rx="1.3" ry="2.0" fill="#000" opacity="0.15"/></g></g><g clip-path="url(#mclip)"><g filter="url(#bl)"><ellipse cx="11.6" cy="9.8" rx="1.0" ry="1.0" fill="#2456e0"/></g></g></g>
<g transform="translate(417.65,308.1)" clip-path="url(#cc2)"><rect x="0.6" y="0.5" width="22.27" height="31.70" fill="#161616"/><rect x="0.6" y="0.5" width="22.27" height="4.5" fill="url(#topband)"/><use href="#ms" fill="url(#mg)" filter="url(#bl)"/><g clip-path="url(#mclip)"><rect x="0" y="0" width="24" height="33" fill="url(#mshade)"/><g filter="url(#b100)"><ellipse cx="11.0" cy="24.8" rx="1.9" ry="1.4" fill="#000" opacity="0.15"/><ellipse cx="12.3" cy="9.7" rx="2.0" ry="1.5" fill="#000" opacity="0.10"/><ellipse cx="11.2" cy="19.0" rx="1.3" ry="1.9" fill="#000" opacity="0.15"/><ellipse cx="11.7" cy="22.5" rx="1.7" ry="2.0" fill="#000" opacity="0.09"/><ellipse cx="10.9" cy="17.0" rx="1.3" ry="2.2" fill="#000" opacity="0.13"/></g></g><g clip-path="url(#mclip)"><g filter="url(#bl)"><ellipse cx="11.6" cy="10.0" rx="1.1" ry="1.2" fill="#2456e0"/></g></g></g>
<g transform="translate(441.12,308.1)" clip-path="url(#cc2)"><rect x="0.6" y="0.5" width="22.27" height="31.70" fill="#161616"/><rect x="0.6" y="0.5" width="22.27" height="4.5" fill="url(#topband)"/><use href="#ms" fill="url(#mg)" filter="url(#bl)"/><g clip-path="url(#mclip)"><rect x="0" y="0" width="24" height="33" fill="url(#mshade)"/><g filter="url(#b100)"><ellipse cx="12.8" cy="12.4" rx="1.4" ry="1.8" fill="#000" opacity="0.08"/><ellipse cx="13.0" cy="22.0" rx="1.2" ry="1.9" fill="#000" opacity="0.12"/><ellipse cx="12.3" cy="25.2" rx="2.0" ry="1.6" fill="#000" opacity="0.15"/><ellipse cx="13.0" cy="25.5" rx="1.2" ry="2.1" fill="#000" opacity="0.10"/><ellipse cx="9.7" cy="19.2" rx="1.9" ry="2.2" fill="#000" opacity="0.11"/></g></g><g clip-path="url(#mclip)"><g filter="url(#bl)"><ellipse cx="11.2" cy="8.5" rx="1.3" ry="2.0" fill="#2456e0"/><ellipse cx="14.2" cy="21.5" rx="1.8" ry="2.0" fill="#3cb4f0"/><ellipse cx="14.2" cy="21.5" rx="0.9" ry="1.0" fill="#4070e0"/><ellipse cx="11.5" cy="27" rx="1.6" ry="1.2" fill="#2456e0"/></g></g></g>
<g transform="translate(464.59,308.1)" clip-path="url(#cc2)"><rect x="0.6" y="0.5" width="22.27" height="31.70" fill="#161616"/><rect x="0.6" y="0.5" width="22.27" height="4.5" fill="url(#topband)"/><use href="#ms" transform="translate(11.4,19) scale(1.1,1.02) translate(-11.4,-19)" fill="#48b0ec" opacity="1" filter="url(#b60)"/><g clip-path="url(#mclip)"><g filter="url(#bl)"><ellipse cx="11.4" cy="9" rx="1.6" ry="2.5" fill="#80d070"/><ellipse cx="11.4" cy="14.5" rx="2.2" ry="2.2" fill="#70c8a0"/><ellipse cx="11.4" cy="20.5" rx="2.6" ry="2.6" fill="#3058c8"/><ellipse cx="8.2" cy="25" rx="2.0" ry="1.4" fill="#90d050"/><ellipse cx="14.6" cy="25" rx="2.0" ry="1.4" fill="#b0d840"/></g></g></g>
<g transform="translate(488.06,308.1)" clip-path="url(#cc2)"><rect x="0.6" y="0.5" width="22.27" height="31.70" fill="#161616"/><rect x="0.6" y="0.5" width="22.27" height="4.5" fill="url(#topband)"/><rect x="0" y="0" width="23.47" height="32.70" fill="#142050"/><rect x="0" y="0" width="23.47" height="32.70" filter="url(#noise)" opacity="1"/><use href="#ms" transform="translate(11.4,19) scale(1.6,1.12) translate(-11.4,-19)" fill="#2a64d0" opacity="1" filter="url(#b130)"/><use href="#ms" transform="translate(11.4,19) scale(1.4,1.08) translate(-11.4,-19)" fill="#44a8e0" opacity="1" filter="url(#b100)"/><use href="#ms" transform="translate(11.4,19) scale(1.25,1.04) translate(-11.4,-19)" fill="#8ccc44" opacity="1" filter="url(#b70)"/><g><g filter="url(#b70)"><ellipse cx="11.4" cy="17" rx="2.6" ry="8" fill="#d4e04a"/><ellipse cx="11.4" cy="24" rx="2.4" ry="2" fill="#c8dc48"/><ellipse cx="11.4" cy="9.5" rx="1.2" ry="1.2" fill="#e02820"/><ellipse cx="8.6" cy="25.5" rx="1.4" ry="1.3" fill="#e02820"/><ellipse cx="14.6" cy="25.5" rx="1.4" ry="1.3" fill="#e02820"/></g></g></g>
<rect x="329.2" y="361.2" width="119.3" height="3.8" fill="url(#cbar)"/>
<line x1="329.2" y1="358.2" x2="329.2" y2="361.2" stroke="#bbb" stroke-width="0.8" />
<text x="329.7" y="354.5" font-size="7.4" text-anchor="middle" font-weight="normal" fill="#231f20" stroke="#231f20" stroke-width="0.1">10<tspan font-size="4.6" dy="-3.6">8</tspan></text>
<line x1="358.9" y1="358.2" x2="358.9" y2="361.2" stroke="#bbb" stroke-width="0.8" />
<text x="359.4" y="354.5" font-size="7.4" text-anchor="middle" font-weight="normal" fill="#231f20" stroke="#231f20" stroke-width="0.1">10<tspan font-size="4.6" dy="-3.6">7</tspan></text>
<line x1="388.59999999999997" y1="358.2" x2="388.59999999999997" y2="361.2" stroke="#bbb" stroke-width="0.8" />
<text x="389.09999999999997" y="354.5" font-size="7.4" text-anchor="middle" font-weight="normal" fill="#231f20" stroke="#231f20" stroke-width="0.1">10<tspan font-size="4.6" dy="-3.6">6</tspan></text>
<line x1="418.29999999999995" y1="358.2" x2="418.29999999999995" y2="361.2" stroke="#bbb" stroke-width="0.8" />
<text x="418.79999999999995" y="354.5" font-size="7.4" text-anchor="middle" font-weight="normal" fill="#231f20" stroke="#231f20" stroke-width="0.1">10<tspan font-size="4.6" dy="-3.6">5</tspan></text>
<line x1="448.0" y1="358.2" x2="448.0" y2="361.2" stroke="#bbb" stroke-width="0.8" />
<text x="448.5" y="354.5" font-size="7.4" text-anchor="middle" font-weight="normal" fill="#231f20" stroke="#231f20" stroke-width="0.1">10<tspan font-size="4.6" dy="-3.6">4</tspan></text>
<text x="485.6" y="352.3" font-size="9.0" text-anchor="middle" font-weight="normal" fill="#231f20" stroke="#231f20" stroke-width="0.08" textLength="36.5" lengthAdjust="spacingAndGlyphs">Radiance</text>
<text x="485.6" y="362.6" font-size="9.0" text-anchor="middle" font-weight="normal" fill="#231f20" stroke="#231f20" stroke-width="0.08" textLength="55.8" lengthAdjust="spacingAndGlyphs">(p/sec/cm<tspan font-size="5.8" dy="-3.2">2</tspan><tspan dy="3.2">/sr)</tspan></text>
<line x1="48.3" y1="422.8" x2="48.3" y2="522.9" stroke="#231f20" stroke-width="1.3" />
<line x1="44.0" y1="522.4" x2="48.3" y2="522.4" stroke="#231f20" stroke-width="1.1" />
<text x="40.8" y="525.5" font-size="9.4" text-anchor="end" font-weight="normal" fill="#231f20" stroke="#231f20" stroke-width="0.08" textLength="13.03" lengthAdjust="spacingAndGlyphs"><tspan font-size="9.4" dy="0.00">10</tspan><tspan font-size="6.4" dy="-3.70">5</tspan></text>
<line x1="44.0" y1="508.54999999999995" x2="48.3" y2="508.54999999999995" stroke="#231f20" stroke-width="1.1" />
<text x="40.8" y="511.65" font-size="9.4" text-anchor="end" font-weight="normal" fill="#231f20" stroke="#231f20" stroke-width="0.08" textLength="13.03" lengthAdjust="spacingAndGlyphs"><tspan font-size="9.4" dy="0.00">10</tspan><tspan font-size="6.4" dy="-3.70">6</tspan></text>
<line x1="44.0" y1="494.7" x2="48.3" y2="494.7" stroke="#231f20" stroke-width="1.1" />
<text x="40.8" y="497.8" font-size="9.4" text-anchor="end" font-weight="normal" fill="#231f20" stroke="#231f20" stroke-width="0.08" textLength="13.03" lengthAdjust="spacingAndGlyphs"><tspan font-size="9.4" dy="0.00">10</tspan><tspan font-size="6.4" dy="-3.70">7</tspan></text>
<line x1="44.0" y1="480.84999999999997" x2="48.3" y2="480.84999999999997" stroke="#231f20" stroke-width="1.1" />
<text x="40.8" y="483.95" font-size="9.4" text-anchor="end" font-weight="normal" fill="#231f20" stroke="#231f20" stroke-width="0.08" textLength="13.03" lengthAdjust="spacingAndGlyphs"><tspan font-size="9.4" dy="0.00">10</tspan><tspan font-size="6.4" dy="-3.70">8</tspan></text>
<line x1="44.0" y1="467.0" x2="48.3" y2="467.0" stroke="#231f20" stroke-width="1.1" />
<text x="40.8" y="470.1" font-size="9.4" text-anchor="end" font-weight="normal" fill="#231f20" stroke="#231f20" stroke-width="0.08" textLength="13.03" lengthAdjust="spacingAndGlyphs"><tspan font-size="9.4" dy="0.00">10</tspan><tspan font-size="6.4" dy="-3.70">9</tspan></text>
<line x1="44.0" y1="453.15" x2="48.3" y2="453.15" stroke="#231f20" stroke-width="1.1" />
<text x="40.8" y="456.25" font-size="9.4" text-anchor="end" font-weight="normal" fill="#231f20" stroke="#231f20" stroke-width="0.08" textLength="16.34" lengthAdjust="spacingAndGlyphs"><tspan font-size="9.4" dy="0.00">10</tspan><tspan font-size="6.4" dy="-3.70">10</tspan></text>
<line x1="44.0" y1="439.29999999999995" x2="48.3" y2="439.29999999999995" stroke="#231f20" stroke-width="1.1" />
<text x="40.8" y="442.4" font-size="9.4" text-anchor="end" font-weight="normal" fill="#231f20" stroke="#231f20" stroke-width="0.08" textLength="15.9" lengthAdjust="spacingAndGlyphs"><tspan font-size="9.4" dy="0.00">10</tspan><tspan font-size="6.4" dy="-3.70">11</tspan></text>
<line x1="44.0" y1="425.45" x2="48.3" y2="425.45" stroke="#231f20" stroke-width="1.1" />
<text x="40.8" y="428.55" font-size="9.4" text-anchor="end" font-weight="normal" fill="#231f20" stroke="#231f20" stroke-width="0.08" textLength="16.34" lengthAdjust="spacingAndGlyphs"><tspan font-size="9.4" dy="0.00">10</tspan><tspan font-size="6.4" dy="-3.70">12</tspan></text>
<line x1="47.7" y1="522.4" x2="195.8" y2="522.4" stroke="#231f20" stroke-width="1.3" />
<line x1="48.2" y1="522.4" x2="48.2" y2="526.6" stroke="#231f20" stroke-width="1.1" />
<text x="48.2" y="538.0" font-size="9.3" text-anchor="middle" font-weight="normal" fill="#231f20" stroke="#231f20" stroke-width="0.08" textLength="4.55" lengthAdjust="spacingAndGlyphs">0</text>
<line x1="77.27000000000001" y1="522.4" x2="77.27000000000001" y2="526.6" stroke="#231f20" stroke-width="1.1" />
<text x="77.27000000000001" y="538.0" font-size="9.3" text-anchor="middle" font-weight="normal" fill="#231f20" stroke="#231f20" stroke-width="0.08" textLength="9.1" lengthAdjust="spacingAndGlyphs">20</text>
<line x1="106.34" y1="522.4" x2="106.34" y2="526.6" stroke="#231f20" stroke-width="1.1" />
<text x="106.34" y="538.0" font-size="9.3" text-anchor="middle" font-weight="normal" fill="#231f20" stroke="#231f20" stroke-width="0.08" textLength="9.1" lengthAdjust="spacingAndGlyphs">40</text>
<line x1="135.41000000000003" y1="522.4" x2="135.41000000000003" y2="526.6" stroke="#231f20" stroke-width="1.1" />
<text x="135.41000000000003" y="538.0" font-size="9.3" text-anchor="middle" font-weight="normal" fill="#231f20" stroke="#231f20" stroke-width="0.08" textLength="9.1" lengthAdjust="spacingAndGlyphs">60</text>
<line x1="164.48000000000002" y1="522.4" x2="164.48000000000002" y2="526.6" stroke="#231f20" stroke-width="1.1" />
<text x="164.48000000000002" y="538.0" font-size="9.3" text-anchor="middle" font-weight="normal" fill="#231f20" stroke="#231f20" stroke-width="0.08" textLength="9.1" lengthAdjust="spacingAndGlyphs">80</text>
<line x1="193.55" y1="522.4" x2="193.55" y2="526.6" stroke="#231f20" stroke-width="1.1" />
<text x="193.55" y="538.0" font-size="9.3" text-anchor="middle" font-weight="normal" fill="#231f20" stroke="#231f20" stroke-width="0.08" textLength="13.65" lengthAdjust="spacingAndGlyphs">100</text>
<text x="0" y="0" font-size="10.4" text-anchor="middle" font-weight="normal" fill="#231f20" stroke="#231f20" stroke-width="0.08" textLength="52.1" lengthAdjust="spacingAndGlyphs" transform="translate(17.0,472.4) rotate(-90)">Total flux [p/s]</text>
<text x="122.5" y="552.9" font-size="10.3" text-anchor="middle" font-weight="normal" fill="#231f20" stroke="#231f20" stroke-width="0.08" textLength="90.3" lengthAdjust="spacingAndGlyphs">Days post T cell injection</text>
<polyline points="48.3,494.6 53.1,498.5 58.2,496.5 64.2,492.7 78.3,493.7 88.4,499.0 108.2,497.4 128.3,511.6 148.4,512.0 170.3,513.0" fill="none" stroke="#62ad42" stroke-width="1.3" stroke-linejoin="round"/>
<polyline points="48.3,494.6 53.6,512.9 58.2,514.2 63.8,514.0 68.5,513.5 78.3,513.5 88.4,513.8 108.2,514.6 128.3,511.6 148.4,514.0" fill="none" stroke="#62ad42" stroke-width="1.3" stroke-linejoin="round"/>
<polyline points="48.3,494.6 53.6,512.0 58.2,513.4 68.5,513.0 78.3,513.2 88.4,513.5 108.2,515.0" fill="none" stroke="#62ad42" stroke-width="1.3" stroke-linejoin="round"/>
<polyline points="48.3,500.0 55.5,511.0 58.2,511.0 68.5,509.8 78.1,505.7 88.4,503.7 108.2,486.6 128.3,468.1 148.4,447.2" fill="none" stroke="#24468a" stroke-width="1.5" stroke-linejoin="round"/>
<polyline points="48.3,500.0 55.5,511.5 58.2,511.5 68.5,510.0 78.1,507.0 88.4,504.5 108.2,488.6 128.3,472.0 148.4,452.5" fill="none" stroke="#24468a" stroke-width="1.5" stroke-linejoin="round"/>
<polyline points="48.3,500.0 55.5,511.5 58.2,512.0 68.5,510.2 78.1,506.5 88.4,504.0 108.0,495.4 128.3,474.9 148.4,461.3 170.3,443.7" fill="none" stroke="#24468a" stroke-width="1.5" stroke-linejoin="round"/>
<polyline points="48.3,500.0 55.5,511.0 58.2,511.5 68.5,510.0 78.1,506.0 88.4,504.0 108.2,488.0 128.3,470.5 148.4,454.4" fill="none" stroke="#24468a" stroke-width="1.5" stroke-linejoin="round"/>
<polyline points="48.3,500.8 54.6,489.2 58.5,481.2 63.8,477.7 68.2,466.5 78.5,450.8 88.2,444.3 95.7,438.9 106.9,434.3" fill="none" stroke="#4d5366" stroke-width="1.4" stroke-linejoin="round"/>
<polyline points="48.3,500.8 54.6,493.8 57.7,484.6 63.8,480.0 68.5,477.0 78.5,463.4 85.4,448.9 88.2,444.3 108.9,439.7" fill="none" stroke="#4d5366" stroke-width="1.4" stroke-linejoin="round"/>
<polyline points="48.3,500.8 53.6,497.0 55.5,487.5 63.8,479.0 68.5,476.0 78.5,460.0 85.4,449.5 88.2,446.5 108.9,439.7" fill="none" stroke="#4d5366" stroke-width="1.4" stroke-linejoin="round"/>
<path d="M48.3,491.90000000000003 L50.9,496.40000000000003 L45.699999999999996,496.40000000000003 Z" fill="#62ad42"/>
<path d="M53.1,495.8 L55.7,500.3 L50.5,500.3 Z" fill="#62ad42"/>
<path d="M58.2,493.8 L60.800000000000004,498.3 L55.6,498.3 Z" fill="#62ad42"/>
<path d="M64.2,490.0 L66.8,494.5 L61.6,494.5 Z" fill="#62ad42"/>
<path d="M78.3,491.0 L80.89999999999999,495.5 L75.7,495.5 Z" fill="#62ad42"/>
<path d="M88.4,496.3 L91.0,500.8 L85.80000000000001,500.8 Z" fill="#62ad42"/>
<path d="M108.2,494.7 L110.8,499.2 L105.60000000000001,499.2 Z" fill="#62ad42"/>
<path d="M128.3,508.90000000000003 L130.9,513.4 L125.70000000000002,513.4 Z" fill="#62ad42"/>
<path d="M148.4,509.3 L151.0,513.8 L145.8,513.8 Z" fill="#62ad42"/>
<path d="M170.3,510.3 L172.9,514.8 L167.70000000000002,514.8 Z" fill="#62ad42"/>
<path d="M48.3,491.90000000000003 L50.9,496.40000000000003 L45.699999999999996,496.40000000000003 Z" fill="#62ad42"/>
<path d="M53.6,510.2 L56.2,514.6999999999999 L51.0,514.6999999999999 Z" fill="#62ad42"/>
<path d="M58.2,511.50000000000006 L60.800000000000004,516.0 L55.6,516.0 Z" fill="#62ad42"/>
<path d="M63.8,511.3 L66.39999999999999,515.8 L61.199999999999996,515.8 Z" fill="#62ad42"/>
<path d="M68.5,510.8 L71.1,515.3 L65.9,515.3 Z" fill="#62ad42"/>
<path d="M78.3,510.8 L80.89999999999999,515.3 L75.7,515.3 Z" fill="#62ad42"/>
<path d="M88.4,511.09999999999997 L91.0,515.5999999999999 L85.80000000000001,515.5999999999999 Z" fill="#62ad42"/>
<path d="M108.2,511.90000000000003 L110.8,516.4 L105.60000000000001,516.4 Z" fill="#62ad42"/>
<path d="M128.3,508.90000000000003 L130.9,513.4 L125.70000000000002,513.4 Z" fill="#62ad42"/>
<path d="M148.4,511.3 L151.0,515.8 L145.8,515.8 Z" fill="#62ad42"/>
<path d="M48.3,491.90000000000003 L50.9,496.40000000000003 L45.699999999999996,496.40000000000003 Z" fill="#62ad42"/>
<path d="M53.6,509.3 L56.2,513.8 L51.0,513.8 Z" fill="#62ad42"/>
<path d="M58.2,510.7 L60.800000000000004,515.1999999999999 L55.6,515.1999999999999 Z" fill="#62ad42"/>
<path d="M68.5,510.3 L71.1,514.8 L65.9,514.8 Z" fill="#62ad42"/>
<path d="M78.3,510.50000000000006 L80.89999999999999,515.0 L75.7,515.0 Z" fill="#62ad42"/>
<path d="M88.4,510.8 L91.0,515.3 L85.80000000000001,515.3 Z" fill="#62ad42"/>
<path d="M108.2,512.3 L110.8,516.8 L105.60000000000001,516.8 Z" fill="#62ad42"/>
<path d="M48.3,497.4 L50.4,500.0 L48.3,502.6 L46.199999999999996,500.0 Z" fill="#24468a"/>
<path d="M55.5,508.4 L57.6,511.0 L55.5,513.6 L53.4,511.0 Z" fill="#24468a"/>
<path d="M58.2,508.4 L60.300000000000004,511.0 L58.2,513.6 L56.1,511.0 Z" fill="#24468a"/>
<path d="M68.5,507.2 L70.6,509.8 L68.5,512.4 L66.4,509.8 Z" fill="#24468a"/>
<path d="M78.1,503.09999999999997 L80.19999999999999,505.7 L78.1,508.3 L76.0,505.7 Z" fill="#24468a"/>
<path d="M88.4,501.09999999999997 L90.5,503.7 L88.4,506.3 L86.30000000000001,503.7 Z" fill="#24468a"/>
<path d="M108.2,484.0 L110.3,486.6 L108.2,489.20000000000005 L106.10000000000001,486.6 Z" fill="#24468a"/>
<path d="M128.3,465.5 L130.4,468.1 L128.3,470.70000000000005 L126.20000000000002,468.1 Z" fill="#24468a"/>
<path d="M148.4,444.59999999999997 L150.5,447.2 L148.4,449.8 L146.3,447.2 Z" fill="#24468a"/>
<path d="M48.3,497.4 L50.4,500.0 L48.3,502.6 L46.199999999999996,500.0 Z" fill="#24468a"/>
<path d="M55.5,508.9 L57.6,511.5 L55.5,514.1 L53.4,511.5 Z" fill="#24468a"/>
<path d="M58.2,508.9 L60.300000000000004,511.5 L58.2,514.1 L56.1,511.5 Z" fill="#24468a"/>
<path d="M68.5,507.4 L70.6,510.0 L68.5,512.6 L66.4,510.0 Z" fill="#24468a"/>
<path d="M78.1,504.4 L80.19999999999999,507.0 L78.1,509.6 L76.0,507.0 Z" fill="#24468a"/>
<path d="M88.4,501.9 L90.5,504.5 L88.4,507.1 L86.30000000000001,504.5 Z" fill="#24468a"/>
<path d="M108.2,486.0 L110.3,488.6 L108.2,491.20000000000005 L106.10000000000001,488.6 Z" fill="#24468a"/>
<path d="M128.3,469.4 L130.4,472.0 L128.3,474.6 L126.20000000000002,472.0 Z" fill="#24468a"/>
<path d="M148.4,449.9 L150.5,452.5 L148.4,455.1 L146.3,452.5 Z" fill="#24468a"/>
<path d="M48.3,497.4 L50.4,500.0 L48.3,502.6 L46.199999999999996,500.0 Z" fill="#24468a"/>
<path d="M55.5,508.9 L57.6,511.5 L55.5,514.1 L53.4,511.5 Z" fill="#24468a"/>
<path d="M58.2,509.4 L60.300000000000004,512.0 L58.2,514.6 L56.1,512.0 Z" fill="#24468a"/>
<path d="M68.5,507.59999999999997 L70.6,510.2 L68.5,512.8 L66.4,510.2 Z" fill="#24468a"/>
<path d="M78.1,503.9 L80.19999999999999,506.5 L78.1,509.1 L76.0,506.5 Z" fill="#24468a"/>
<path d="M88.4,501.4 L90.5,504.0 L88.4,506.6 L86.30000000000001,504.0 Z" fill="#24468a"/>
<path d="M108.0,492.79999999999995 L110.1,495.4 L108.0,498.0 L105.9,495.4 Z" fill="#24468a"/>
<path d="M128.3,472.29999999999995 L130.4,474.9 L128.3,477.5 L126.20000000000002,474.9 Z" fill="#24468a"/>
<path d="M148.4,458.7 L150.5,461.3 L148.4,463.90000000000003 L146.3,461.3 Z" fill="#24468a"/>
<path d="M170.3,441.09999999999997 L172.4,443.7 L170.3,446.3 L168.20000000000002,443.7 Z" fill="#24468a"/>
<path d="M48.3,497.4 L50.4,500.0 L48.3,502.6 L46.199999999999996,500.0 Z" fill="#24468a"/>
<path d="M55.5,508.4 L57.6,511.0 L55.5,513.6 L53.4,511.0 Z" fill="#24468a"/>
<path d="M58.2,508.9 L60.300000000000004,511.5 L58.2,514.1 L56.1,511.5 Z" fill="#24468a"/>
<path d="M68.5,507.4 L70.6,510.0 L68.5,512.6 L66.4,510.0 Z" fill="#24468a"/>
<path d="M78.1,503.4 L80.19999999999999,506.0 L78.1,508.6 L76.0,506.0 Z" fill="#24468a"/>
<path d="M88.4,501.4 L90.5,504.0 L88.4,506.6 L86.30000000000001,504.0 Z" fill="#24468a"/>
<path d="M108.2,485.4 L110.3,488.0 L108.2,490.6 L106.10000000000001,488.0 Z" fill="#24468a"/>
<path d="M128.3,467.9 L130.4,470.5 L128.3,473.1 L126.20000000000002,470.5 Z" fill="#24468a"/>
<path d="M148.4,451.79999999999995 L150.5,454.4 L148.4,457.0 L146.3,454.4 Z" fill="#24468a"/>
<circle cx="48.3" cy="500.8" r="2.8" fill="#4d5366"/>
<circle cx="54.6" cy="489.2" r="2.8" fill="#4d5366"/>
<circle cx="58.5" cy="481.2" r="2.8" fill="#4d5366"/>
<circle cx="63.8" cy="477.7" r="2.8" fill="#4d5366"/>
<circle cx="68.2" cy="466.5" r="2.8" fill="#4d5366"/>
<circle cx="78.5" cy="450.8" r="2.8" fill="#4d5366"/>
<circle cx="88.2" cy="444.3" r="2.8" fill="#4d5366"/>
<circle cx="95.7" cy="438.9" r="2.8" fill="#4d5366"/>
<circle cx="106.9" cy="434.3" r="2.8" fill="#4d5366"/>
<circle cx="48.3" cy="500.8" r="2.8" fill="#4d5366"/>
<circle cx="54.6" cy="493.8" r="2.8" fill="#4d5366"/>
<circle cx="57.7" cy="484.6" r="2.8" fill="#4d5366"/>
<circle cx="63.8" cy="480.0" r="2.8" fill="#4d5366"/>
<circle cx="68.5" cy="477.0" r="2.8" fill="#4d5366"/>
<circle cx="78.5" cy="463.4" r="2.8" fill="#4d5366"/>
<circle cx="85.4" cy="448.9" r="2.8" fill="#4d5366"/>
<circle cx="88.2" cy="444.3" r="2.8" fill="#4d5366"/>
<circle cx="108.9" cy="439.7" r="2.8" fill="#4d5366"/>
<circle cx="48.3" cy="500.8" r="2.8" fill="#4d5366"/>
<circle cx="53.6" cy="497.0" r="2.8" fill="#4d5366"/>
<circle cx="55.5" cy="487.5" r="2.8" fill="#4d5366"/>
<circle cx="63.8" cy="479.0" r="2.8" fill="#4d5366"/>
<circle cx="68.5" cy="476.0" r="2.8" fill="#4d5366"/>
<circle cx="78.5" cy="460.0" r="2.8" fill="#4d5366"/>
<circle cx="85.4" cy="449.5" r="2.8" fill="#4d5366"/>
<circle cx="88.2" cy="446.5" r="2.8" fill="#4d5366"/>
<circle cx="108.9" cy="439.7" r="2.8" fill="#4d5366"/>
<line x1="47.8" y1="386.9" x2="59.4" y2="386.9" stroke="#4d5366" stroke-width="1.4" />
<circle cx="54" cy="386.9" r="2.7" fill="#4d5366"/>
<text x="62.2" y="390.5" font-size="8.6" text-anchor="start" font-weight="normal" fill="#231f20" stroke="#231f20" stroke-width="0.08" textLength="15.6" lengthAdjust="spacingAndGlyphs">PBS</text>
<line x1="47.8" y1="404.2" x2="59.4" y2="404.2" stroke="#62ad42" stroke-width="1.4" />
<path d="M54,401.3 L56.7,405.9 L51.3,405.9 Z" fill="#62ad42"/>
<text x="60.9" y="407.4" font-size="8.6" text-anchor="start" font-weight="normal" fill="#231f20" stroke="#231f20" stroke-width="0.08" textLength="56.1" lengthAdjust="spacingAndGlyphs"><tspan font-size="6.2" dy="1.8">RV</tspan><tspan dy="-1.8">19BB</tspan><tspan font-size="6.2" dy="1.8">CR</tspan><tspan dy="-1.8">TCR</tspan><tspan font-size="6" dy="-3.4">+</tspan></text>
<line x1="127.7" y1="404.2" x2="137.8" y2="404.2" stroke="#24468a" stroke-width="1.4" />
<path d="M132.7,402.0 L134.6,404.2 L132.7,406.4 L130.8,404.2 Z" fill="#24468a"/>
<text x="140.0" y="407.4" font-size="8.6" text-anchor="start" font-weight="normal" fill="#231f20" stroke="#231f20" stroke-width="0.08" textLength="60.0" lengthAdjust="spacingAndGlyphs"><tspan font-size="6.2" dy="1.8">RV</tspan><tspan dy="-1.8">19BB</tspan><tspan font-size="6.2" dy="1.8">CR</tspan><tspan dy="-1.8">TRBC</tspan><tspan font-size="6" dy="-3.4">&#8211;</tspan></text>
<line x1="260.6" y1="423.6" x2="260.6" y2="521.8" stroke="#231f20" stroke-width="1.3" />
<line x1="257.0" y1="521.2" x2="260.6" y2="521.2" stroke="#231f20" stroke-width="1.1" />
<text x="253.8" y="524.3000000000001" font-size="8.8" text-anchor="end" font-weight="normal" fill="#231f20" stroke="#231f20" stroke-width="0.08" textLength="4.6" lengthAdjust="spacingAndGlyphs">0</text>
<line x1="257.0" y1="497.36000000000007" x2="260.6" y2="497.36000000000007" stroke="#231f20" stroke-width="1.1" />
<text x="253.8" y="500.4600000000001" font-size="8.8" text-anchor="end" font-weight="normal" fill="#231f20" stroke="#231f20" stroke-width="0.08" textLength="9.2" lengthAdjust="spacingAndGlyphs">25</text>
<line x1="257.0" y1="473.52000000000004" x2="260.6" y2="473.52000000000004" stroke="#231f20" stroke-width="1.1" />
<text x="253.8" y="476.62000000000006" font-size="8.8" text-anchor="end" font-weight="normal" fill="#231f20" stroke="#231f20" stroke-width="0.08" textLength="9.2" lengthAdjust="spacingAndGlyphs">50</text>
<line x1="257.0" y1="449.68000000000006" x2="260.6" y2="449.68000000000006" stroke="#231f20" stroke-width="1.1" />
<text x="253.8" y="452.7800000000001" font-size="8.8" text-anchor="end" font-weight="normal" fill="#231f20" stroke="#231f20" stroke-width="0.08" textLength="9.2" lengthAdjust="spacingAndGlyphs">75</text>
<line x1="257.0" y1="425.84000000000003" x2="260.6" y2="425.84000000000003" stroke="#231f20" stroke-width="1.1" />
<text x="253.8" y="428.94000000000005" font-size="8.8" text-anchor="end" font-weight="normal" fill="#231f20" stroke="#231f20" stroke-width="0.08" textLength="13.8" lengthAdjust="spacingAndGlyphs">100</text>
<line x1="260.0" y1="521.2" x2="405.3" y2="521.2" stroke="#231f20" stroke-width="1.3" />
<line x1="260.6" y1="521.2" x2="260.6" y2="525.0" stroke="#231f20" stroke-width="1.1" />
<text x="260.6" y="536.6" font-size="8.8" text-anchor="middle" font-weight="normal" fill="#231f20" stroke="#231f20" stroke-width="0.08" textLength="4.5" lengthAdjust="spacingAndGlyphs">0</text>
<line x1="292.48" y1="521.2" x2="292.48" y2="525.0" stroke="#231f20" stroke-width="1.1" />
<text x="292.48" y="536.6" font-size="8.8" text-anchor="middle" font-weight="normal" fill="#231f20" stroke="#231f20" stroke-width="0.08" textLength="9.0" lengthAdjust="spacingAndGlyphs">20</text>
<line x1="324.36" y1="521.2" x2="324.36" y2="525.0" stroke="#231f20" stroke-width="1.1" />
<text x="324.36" y="536.6" font-size="8.8" text-anchor="middle" font-weight="normal" fill="#231f20" stroke="#231f20" stroke-width="0.08" textLength="9.0" lengthAdjust="spacingAndGlyphs">40</text>
<line x1="356.24" y1="521.2" x2="356.24" y2="525.0" stroke="#231f20" stroke-width="1.1" />
<text x="356.24" y="536.6" font-size="8.8" text-anchor="middle" font-weight="normal" fill="#231f20" stroke="#231f20" stroke-width="0.08" textLength="9.0" lengthAdjust="spacingAndGlyphs">60</text>
<line x1="388.12" y1="521.2" x2="388.12" y2="525.0" stroke="#231f20" stroke-width="1.1" />
<text x="388.12" y="536.6" font-size="8.8" text-anchor="middle" font-weight="normal" fill="#231f20" stroke="#231f20" stroke-width="0.08" textLength="9.0" lengthAdjust="spacingAndGlyphs">80</text>
<text x="0" y="0" font-size="10.4" text-anchor="middle" font-weight="normal" fill="#231f20" stroke="#231f20" stroke-width="0.08" textLength="58.4" lengthAdjust="spacingAndGlyphs" transform="translate(232.7,473.0) rotate(-90)">Percent survival</text>
<text x="332.9" y="551.4" font-size="10.3" text-anchor="middle" font-weight="normal" fill="#231f20" stroke="#231f20" stroke-width="0.08" textLength="90.5" lengthAdjust="spacingAndGlyphs">Days post T cell injection</text>
<path d="M260.6,425.84000000000003 L382.4,425.84000000000003 L382.4,497.36000000000007 L400.3,497.36000000000007 L400.3,521.2" fill="none" stroke="#24468a" stroke-width="1.4"/>
<line x1="260.6" y1="425.84000000000003" x2="404.7" y2="425.84000000000003" stroke="#62ad42" stroke-width="1.5" />
<line x1="318" y1="424.04" x2="318" y2="425.84000000000003" stroke="#62ad42" stroke-width="0.9" />
<line x1="334.6" y1="424.04" x2="334.6" y2="425.84000000000003" stroke="#62ad42" stroke-width="0.9" />
<line x1="358.7" y1="424.04" x2="358.7" y2="425.84000000000003" stroke="#62ad42" stroke-width="0.9" />
<path d="M260.6,425.84000000000003 L318.1,425.84000000000003 L318.1,473.52000000000004 L329.6,473.52000000000004 L329.6,521.2" fill="none" stroke="#4d5366" stroke-width="1.4" stroke-dasharray="3,1.9"/>
<path d="M260.4,387.7 H263.7 M267.6,387.7 H271.5 M265.7,386.2 V387.3" stroke="#4d5366" stroke-width="1.3" fill="none"/>
<text x="275.4" y="390.6" font-size="8.6" text-anchor="start" font-weight="normal" fill="#231f20" stroke="#231f20" stroke-width="0.08" textLength="15.8" lengthAdjust="spacingAndGlyphs">PBS</text>
<line x1="260.4" y1="403.6" x2="271.2" y2="403.6" stroke="#62ad42" stroke-width="1.4" />
<line x1="265.8" y1="401.8" x2="265.8" y2="403.6" stroke="#62ad42" stroke-width="0.9" />
<text x="274.4" y="406.5" font-size="8.6" text-anchor="start" font-weight="normal" fill="#231f20" stroke="#231f20" stroke-width="0.08" textLength="52.0" lengthAdjust="spacingAndGlyphs"><tspan font-size="6.2" dy="1.8">RV</tspan><tspan dy="-1.8">19BB</tspan><tspan font-size="6.2" dy="1.8">CR</tspan><tspan dy="-1.8">TCR</tspan><tspan font-size="6" dy="-3.4">+</tspan></text>
<line x1="341.0" y1="403.8" x2="349.9" y2="403.8" stroke="#24468a" stroke-width="1.4" />
<line x1="345.4" y1="402.0" x2="345.4" y2="403.8" stroke="#24468a" stroke-width="0.9" />
<text x="352.8" y="406.5" font-size="8.6" text-anchor="start" font-weight="normal" fill="#231f20" stroke="#231f20" stroke-width="0.08" textLength="60.1" lengthAdjust="spacingAndGlyphs"><tspan font-size="6.2" dy="1.8">RV</tspan><tspan dy="-1.8">19BB</tspan><tspan font-size="6.2" dy="1.8">CR</tspan><tspan dy="-1.8">TRBC</tspan><tspan font-size="6" dy="-3.4">&#8211;</tspan></text></svg></body></html>
